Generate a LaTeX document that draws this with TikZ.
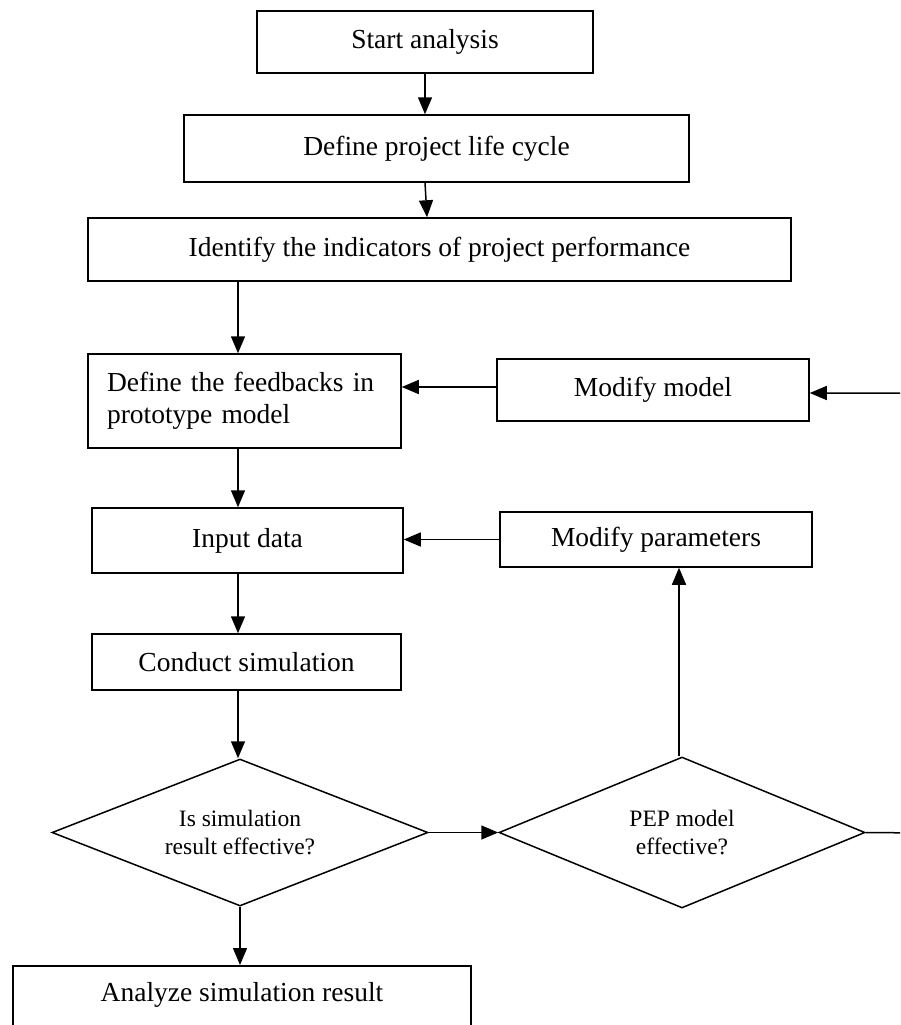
\documentclass[tikz,border=0pt]{standalone}
\usepackage{fontspec}
\setmainfont{Liberation Serif}
\usetikzlibrary{arrows.meta,shapes.geometric,calc}
\begin{document}
\begin{tikzpicture}[x=1pt,y=-1pt,
  box/.style={draw, line width=1.5pt, rectangle, inner sep=0pt, align=center,
    font=\fontsize{27.5}{31.5}\selectfont},
  dec/.style={draw, line width=1.5pt, diamond, aspect=2.5, inner sep=0pt, align=center,
    font=\fontsize{23.5}{28}\selectfont},
  arr/.style={line width=1.5pt, -{Triangle[length=17pt,width=14pt]}}]
\clip (0,0) rectangle (900,1025);
\fill[white] (0,0) rectangle (900,1025);
% nodes
\node[box, minimum width=336, minimum height=62] (start) at (425,42) {Start analysis};
\node[box, minimum width=505, minimum height=67] (life) at (436.5,148.5) {Define project life cycle};
\node[box, minimum width=703, minimum height=63] (ident) at (439.5,249.5) {Identify the indicators of project performance};
\node[box, minimum width=313, minimum height=94, text width=275, align=left, inner xsep=19pt] (feed) at (244.5,401) {Define the feedbacks in\\prototype model};
\node[box, minimum width=312, minimum height=62] (modmodel) at (653,390) {Modify model};
\node[box, minimum width=311, minimum height=65] (input) at (247.5,540.5) {Input data};
\node[box, minimum width=312, minimum height=55] (modparam) at (656,539.5) {Modify parameters};
\node[box, minimum width=309, minimum height=56] (conduct) at (246.5,662) {Conduct simulation};
\node[dec, minimum width=376, minimum height=147] (d1) at (240,832.5) {Is simulation\\result effective?};
\node[dec, minimum width=366, minimum height=151] (d2) at (682,832.5) {PEP model\\effective?};
\node[box, anchor=north, minimum width=458, inner ysep=8pt, text height=28pt, text depth=80pt] (analyze) at (242,965) {Analyze simulation result};
\coordinate (rt) at (925,833);
\coordinate (mme) at ([yshift=-3pt]modmodel.east);
% connectors
\draw[arr] (start.south) -- (start.south |- life.north);
\draw[arr] ([xshift=-11.5pt]life.south) -- ([xshift=-12.5pt]ident.north);
\draw[arr] ([xshift=-6.5pt]feed.north |- ident.south) -- ([xshift=-6.5pt]feed.north);
\draw[arr] ([yshift=3pt]modmodel.west) -- ([yshift=3pt]modmodel.west -| feed.east);
\draw[arr] ([xshift=-6.5pt]feed.south) -- ([xshift=-6.5pt]feed.south |- input.north);
\draw[arr] (modparam.west) -- (modparam.west -| input.east);
\draw[arr] ([xshift=-9.5pt]input.south) -- ([xshift=-9.5pt]input.south |- conduct.north);
\draw[arr] ([xshift=-8.5pt]conduct.south) -- ([xshift=-8.5pt]conduct.south |- d1.north);
\draw[arr] (d1.east) -- (d2.west);
\draw[arr] ([xshift=-3pt]d2.north) -- ([xshift=-3pt]d2.north |- modparam.south);
\draw[arr] (d2.east) -- (rt) -- (rt |- mme) -- (mme);
\draw[arr] (d1.south) -- (d1.south |- analyze.north);
\end{tikzpicture}
\end{document}
